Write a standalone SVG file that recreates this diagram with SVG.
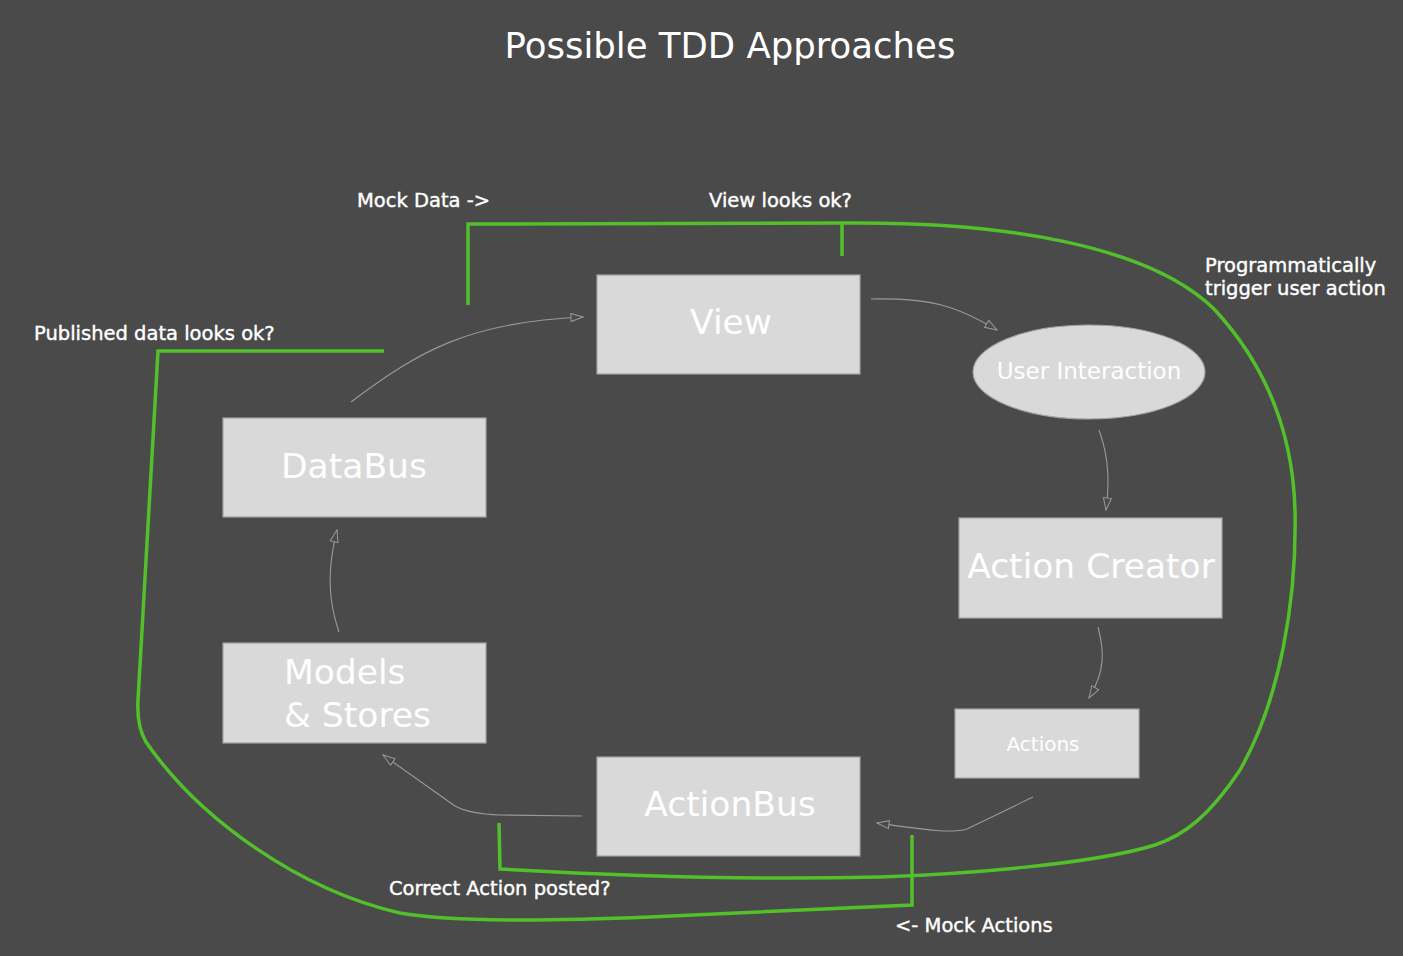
<svg xmlns="http://www.w3.org/2000/svg" width="1403" height="956" viewBox="0 0 1403 956">
<defs>
<style>
.bg{fill:#4a4a4a}
.box{fill:#d9d9d9;stroke:#a3a3a3;stroke-width:1.2}
.big{font-family:"DejaVu Sans","Open Sans",sans-serif;font-size:34.5px;fill:#ffffff}
.lbl{font-family:"DejaVu Sans","Open Sans",sans-serif;font-size:19.5px;fill:#ffffff;stroke:#ffffff;stroke-width:0.4}
.conn{fill:none;stroke:#9a9a9a;stroke-width:1.1;marker-end:url(#arr)}
.green{fill:none;stroke:#52c02a;stroke-width:3.5;stroke-linejoin:miter}
</style>
<marker id="arr" viewBox="0 0 14 10" refX="13" refY="5" markerWidth="14" markerHeight="10" orient="auto" markerUnits="userSpaceOnUse">
<path d="M1,1 L13,5 L1,9 Z" fill="#4a4a4a" stroke="#9a9a9a" stroke-width="1"/>
</marker>
</defs>
<rect class="bg" x="0" y="0" width="1403" height="956"/>
<text x="730" y="58" text-anchor="middle" font-family="DejaVu Sans, Open Sans, sans-serif" font-size="35.5" fill="#ffffff">Possible TDD Approaches</text>

<g id="connectors">
<path class="conn" d="M871,299 C930,298 955,305 997,330"/>
<path class="conn" d="M1099,430 C1110,460 1109,485 1106,510"/>
<path class="conn" d="M1098,627 C1104,650 1106,670 1089,698"/>
<path class="conn" d="M1033,797 L967,829 C950,834 920,829 877,823"/>
<path class="conn" d="M582,816 L500,815 C475,814 462,810 455,806 L383,755"/>
<path class="conn" d="M339,632 C328,600 327,570 337,530"/>
<path class="conn" d="M351,402 C420,350 470,322 583,317"/>
</g>

<g id="test-loops">
<path class="green" d="M468,305 L468,224 L842,223 C1000,221 1150,245 1215,310 C1270,370 1293,440 1295,510 C1297,600 1280,700 1240,770 C1210,815 1185,835 1155,845 C1090,865 960,874 880,877 C760,880 620,876 500,869 L499,823"/>
<path class="green" d="M842,223 L842,256"/>
<path class="green" d="M384,351 L158,351 L138,700 C137,718 140,732 146,742 C200,820 300,890 400,913 C450,922 550,921 650,917 L912,905 L912,835"/>
</g>

<g id="labels">
<text class="lbl" x="357" y="207">Mock Data -&gt;</text>
<text class="lbl" x="709" y="207">View looks ok?</text>
<text class="lbl" x="1205" y="272">Programmatically</text>
<text class="lbl" x="1205" y="295">trigger user action</text>
<text class="lbl" x="34" y="340">Published data looks ok?</text>
<text class="lbl" x="389" y="895">Correct Action posted?</text>
<text class="lbl" x="895" y="932">&lt;- Mock Actions</text>
</g>

<g id="view">
<rect class="box" x="597" y="275" width="263" height="99"/>
<text class="big" x="731" y="334" text-anchor="middle">View</text>
</g>
<g id="user-interaction">
<ellipse class="box" cx="1089" cy="372" rx="116" ry="47"/>
<text x="1089" y="379" text-anchor="middle" font-family="DejaVu Sans, Open Sans, sans-serif" font-size="23" fill="#ffffff">User Interaction</text>
</g>
<g id="action-creator">
<rect class="box" x="959" y="518" width="263" height="100"/>
<text class="big" x="1091" y="578" text-anchor="middle">Action Creator</text>
</g>
<g id="actions">
<rect class="box" x="955" y="709" width="184" height="69"/>
<text x="1043" y="751" text-anchor="middle" font-family="DejaVu Sans, Open Sans, sans-serif" font-size="20" fill="#ffffff">Actions</text>
</g>
<g id="actionbus">
<rect class="box" x="597" y="757" width="263" height="99"/>
<text class="big" x="730" y="816" text-anchor="middle">ActionBus</text>
</g>
<g id="models-stores">
<rect class="box" x="223" y="643" width="263" height="100"/>
<text class="big" x="284" y="684">Models</text>
<text class="big" x="284" y="727">&amp; Stores</text>
</g>
<g id="databus">
<rect class="box" x="223" y="418" width="263" height="99"/>
<text class="big" x="354" y="478" text-anchor="middle">DataBus</text>
</g>
</svg>
